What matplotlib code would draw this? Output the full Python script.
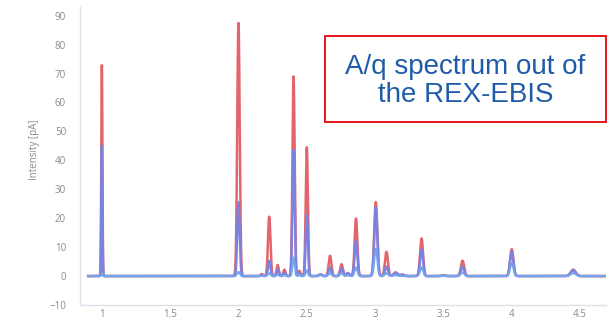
import numpy as np
import matplotlib
matplotlib.use("Agg")
import matplotlib.pyplot as plt
from matplotlib.patches import Rectangle

# peak list: A/q position, heights per trace [pA], width
peak_pos = [1.00, 2.00, 2.17, 2.225, 2.287, 2.336, 2.403, 2.445, 2.50, 2.60,
            2.67, 2.754, 2.80, 2.86, 3.005, 3.083, 3.15, 3.20, 3.34, 3.50,
            3.64, 4.00, 4.45]
red_h = [73.0, 87.5, 0.7, 20.5, 3.8, 2.2, 69.0, 1.8, 44.5, 0.6,
         7.0, 4.1, 1.0, 19.9, 25.6, 8.4, 1.2, 0.5, 13.0, 0.2,
         5.3, 9.3, 2.2]
blue_h = [45.0, 25.5, 0.3, 5.3, 2.3, 1.2, 43.5, 1.0, 21.2, 0.6,
          3.0, 2.6, 1.0, 12.2, 23.7, 3.3, 1.2, 0.5, 9.1, 0.2,
          3.3, 8.4, 2.0]
light_h = [1.0, 1.5, 0.0, 1.0, 0.5, 0.3, 6.4, 0.3, 2.0, 0.3,
           1.0, 1.0, 0.3, 3.0, 9.5, 1.0, 0.3, 0.0, 3.0, 0.0,
           1.3, 4.5, 1.0]
peak_w = [0.004, 0.009, 0.008, 0.009, 0.008, 0.008, 0.008, 0.008, 0.008, 0.011,
          0.01, 0.01, 0.01, 0.01, 0.011, 0.011, 0.014, 0.014, 0.011, 0.014,
          0.012, 0.012, 0.018]

x_start, x_end = 0.9, 4.7


def spectrum(x, heights):
    y = np.zeros_like(x)
    for c, h, w in zip(peak_pos, heights, peak_w):
        y += h * np.exp(-0.5 * ((x - c) / w) ** 2)
    return y


x = np.linspace(x_start, x_end, 8000)

fig = plt.figure(figsize=(6.08, 3.2), dpi=100)
ax = fig.add_axes([80 / 608, 15 / 320, 526 / 608, 298 / 320])

ax.plot(x, spectrum(x, red_h), color="#e3646b", lw=1.8)
ax.plot(x, spectrum(x, blue_h), color="#7b83e0", lw=1.8)
ax.plot(x, spectrum(x, light_h), color="#74a4ee", lw=1.5)

ax.set_xlim(0.84, 4.69)
ax.set_ylim(-10, 93)
ax.set_yticks(range(-10, 100, 10))
ax.set_xticks([1, 1.5, 2, 2.5, 3, 3.5, 4, 4.5])
ax.set_xticklabels(["1", "1.5", "2", "2.5", "3", "3.5", "4", "4.5"])
ax.tick_params(length=0, labelsize=7, labelcolor="#8a8a8a")
ax.tick_params(axis="x", pad=3)
ax.tick_params(axis="y", pad=10)
for lab in ax.get_xticklabels() + ax.get_yticklabels():
    lab.set_fontfamily("Open Sans")
for s in ["top", "right"]:
    ax.spines[s].set_visible(False)
for s in ["left", "bottom"]:
    ax.spines[s].set_color("#dde0ea")
    ax.spines[s].set_linewidth(1)
ax.set_ylabel("Intensity [pA]", fontsize=7, color="#8a8a8a", family="Open Sans")
ax.yaxis.set_label_coords(-40 / 526, 0.52)

# annotation box
fig.patches.append(Rectangle((325 / 608, 1 - 122 / 320), 281 / 608, 86 / 320,
                             transform=fig.transFigure, facecolor="white",
                             edgecolor="#e8141e", lw=1.4, zorder=5))
fig.text(465.5 / 608, 1 - 81 / 320, "A/q spectrum out of\nthe REX-EBIS",
         ha="center", va="center", fontsize=20, color="#1f5ca8",
         family="Liberation Sans", linespacing=1.15, zorder=6)

fig.savefig("out.png", dpi=100)
